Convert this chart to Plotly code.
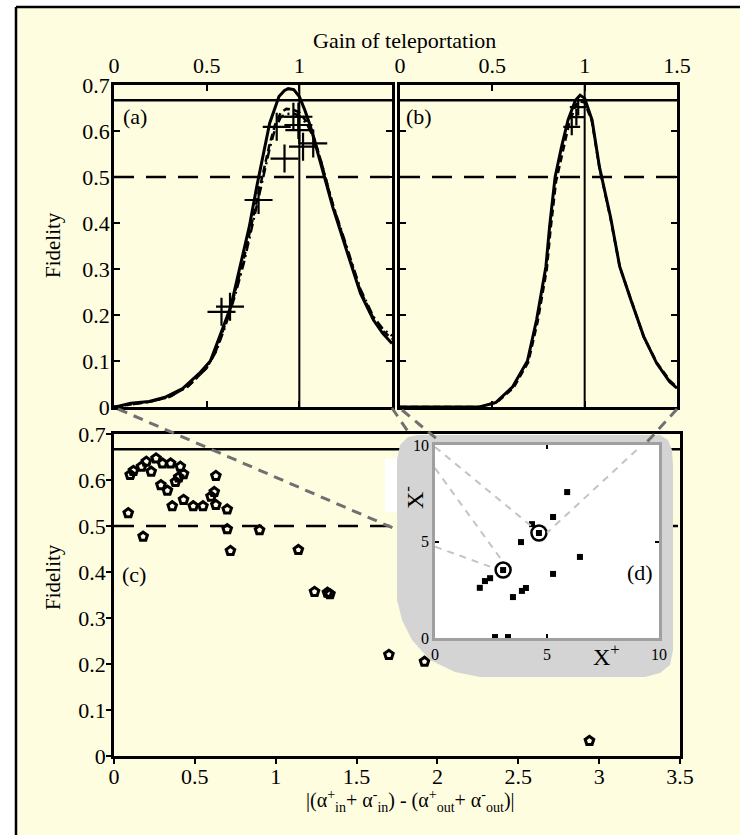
import plotly.graph_objects as go

W, H = 740, 835
CREAM = "#fffde0"
FONT = "Liberation Serif"

# --- panel (a): fidelity vs gain of teleportation ---
a_gain_solid = [0, 0.03, 0.09, 0.19, 0.28, 0.37, 0.46, 0.52, 0.57, 0.63, 0.68, 0.73, 0.77, 0.81,
                0.84, 0.89, 0.92, 0.94, 0.97, 1.0, 1.03, 1.06, 1.11, 1.18, 1.26, 1.33, 1.40, 1.45, 1.5]
a_fid_solid = [0.0, 0.002, 0.008, 0.012, 0.022, 0.04, 0.073, 0.10, 0.153, 0.218, 0.305, 0.392, 0.479,
               0.559, 0.617, 0.675, 0.688, 0.692, 0.69, 0.675, 0.645, 0.61, 0.537, 0.435, 0.334,
               0.247, 0.189, 0.16, 0.138]
a_gain_dash = [0, 0.1, 0.2, 0.3, 0.4, 0.5, 0.55, 0.6, 0.65, 0.7, 0.75, 0.8, 0.84, 0.87, 0.9, 0.93,
               0.97, 1.0, 1.04, 1.08, 1.12, 1.18, 1.26, 1.33, 1.4, 1.45, 1.5]
a_fid_dash = [0, 0.006, 0.012, 0.022, 0.045, 0.085, 0.122, 0.18, 0.245, 0.322, 0.41, 0.5, 0.572,
              0.615, 0.64, 0.648, 0.646, 0.64, 0.62, 0.585, 0.53, 0.44, 0.34, 0.252, 0.193, 0.166, 0.148]
a_gain_dashdot = [0, 0.1, 0.2, 0.3, 0.4, 0.5, 0.55, 0.6, 0.65, 0.7, 0.75, 0.8, 0.84, 0.87, 0.9, 0.93,
                  0.97, 1.0, 1.04, 1.08, 1.12, 1.18, 1.26, 1.33, 1.4, 1.45, 1.5]
a_fid_dashdot = [0, 0.006, 0.012, 0.022, 0.045, 0.085, 0.12, 0.175, 0.238, 0.312, 0.4, 0.49, 0.562,
                 0.606, 0.63, 0.637, 0.638, 0.633, 0.616, 0.583, 0.53, 0.442, 0.342, 0.256, 0.196,
                 0.17, 0.155]
a_gain_pts = [0.58, 0.626, 0.78, 0.878, 0.92, 0.968, 0.995, 1.0, 1.02, 1.075, 0.995]
a_fid_pts = [0.207, 0.218, 0.45, 0.609, 0.54, 0.631, 0.613, 0.602, 0.566, 0.573, 0.631]

# --- panel (b) ---
b_gain_solid = [0, 0.43, 0.52, 0.61, 0.69, 0.74, 0.79, 0.81, 0.84, 0.875, 0.91, 0.95, 0.975, 1.0,
                1.04, 1.08, 1.14, 1.19, 1.25, 1.32, 1.39, 1.46, 1.5]
b_fid_solid = [0, 0.0, 0.01, 0.044, 0.10, 0.19, 0.305, 0.392, 0.5, 0.566, 0.624, 0.667, 0.678, 0.671,
               0.624, 0.522, 0.413, 0.305, 0.233, 0.153, 0.095, 0.055, 0.041]
b_gain_dash = [0, 0.43, 0.525, 0.615, 0.695, 0.745, 0.795, 0.815, 0.845, 0.88, 0.915, 0.95, 0.97, 1.0,
               1.04, 1.08, 1.14, 1.19, 1.25, 1.32, 1.39, 1.46, 1.5]
b_fid_dash = [0, 0.0, 0.01, 0.042, 0.098, 0.185, 0.3, 0.385, 0.49, 0.556, 0.615, 0.655, 0.665, 0.662,
              0.62, 0.52, 0.41, 0.305, 0.232, 0.152, 0.097, 0.058, 0.043]
b_gain_pts = [0.93, 0.955, 0.965]
b_fid_pts = [0.609, 0.63, 0.652]

# --- panel (c): fidelity vs offset |(a_in) - (a_out)| ---
c_offset = [0.088, 0.1, 0.12, 0.18, 0.17, 0.2, 0.23, 0.26, 0.30, 0.35, 0.29, 0.33, 0.36, 0.38, 0.41,
            0.40, 0.43, 0.43, 0.49, 0.55, 0.60, 0.62, 0.63, 0.63, 0.70, 0.70, 0.72, 0.90, 1.14,
            1.24, 1.32, 1.335, 1.70, 1.92, 2.94]
c_fid = [0.528, 0.611, 0.62, 0.477, 0.629, 0.64, 0.618, 0.647, 0.636, 0.636, 0.589, 0.577, 0.543,
         0.596, 0.629, 0.606, 0.613, 0.557, 0.543, 0.543, 0.564, 0.574, 0.609, 0.546, 0.536, 0.493,
         0.446, 0.491, 0.448, 0.357, 0.355, 0.352, 0.22, 0.205, 0.033]

# --- inset (d): X+ / X- ---
d_xplus = [5.9, 5.27, 4.33, 3.84, 6.47, 2.46, 2.23, 2.0, 5.27, 4.06, 3.88, 3.48, 2.68, 3.26, 4.64, 3.04]
d_xminus = [7.56, 6.27, 5.9, 4.97, 4.2, 3.1, 2.95, 2.6, 3.32, 2.59, 2.44, 2.12, 0.05, 0.05, 5.44, 3.52]
d_circ_xplus = [4.64, 3.04]
d_circ_xminus = [5.44, 3.52]

NO_CLONING = 0.667
CLASSICAL = 0.5

# pixel boxes of the plot areas
A_BOX = (114, 392, 85, 407)
B_BOX = (400, 677, 85, 407)
C_BOX = (114, 680, 434, 756)
D_BOX = (435, 659, 445, 638)


def xdom(b):
    return [b[0] / W, b[1] / W]


def ydom(b):
    return [1 - b[3] / H, 1 - b[2] / H]


def to_c(pts):
    # pixel outline -> panel (c) data units (decoration behind the inset)
    xs = [(p[0] - C_BOX[0]) / (C_BOX[1] - C_BOX[0]) * 3.5 for p in pts]
    ys = [(C_BOX[3] - p[1]) / (C_BOX[3] - C_BOX[2]) * 0.7 for p in pts]
    return xs, ys


fig = go.Figure()

#* ---- curves of (a) and (b) ----
for xa, ya, gs, fs, gd, fd, gp, fp in [
        ("x", "y", a_gain_solid, a_fid_solid, a_gain_dash, a_fid_dash, a_gain_pts, a_fid_pts),
        ("x2", "y2", b_gain_solid, b_fid_solid, b_gain_dash, b_fid_dash, b_gain_pts, b_fid_pts)]:
    fig.add_trace(go.Scatter(x=gd, y=fd, xaxis=xa, yaxis=ya, mode="lines",
                             line=dict(color="black", width=2.5, dash="7px,4px")))
    fig.add_trace(go.Scatter(x=gs, y=fs, xaxis=xa, yaxis=ya, mode="lines",
                             line=dict(color="black", width=3)))
    fig.add_trace(go.Scatter(x=gp, y=fp, xaxis=xa, yaxis=ya, mode="markers",
                             marker=dict(symbol="cross-thin-open", size=20 if xa == "x" else 12,
                                         color="black", line=dict(color="black", width=2.2))))
fig.add_trace(go.Scatter(x=a_gain_dashdot, y=a_fid_dashdot, xaxis="x", yaxis="y", mode="lines",
                         line=dict(color="black", width=2.5, dash="9px,4px,2px,4px")))

#* ---- panel (c) ----
fig.add_trace(go.Scatter(x=[0, 3.5], y=[NO_CLONING] * 2, xaxis="x3", yaxis="y3", mode="lines",
                         line=dict(color="black", width=2.5)))
fig.add_trace(go.Scatter(x=[0, 3.5], y=[CLASSICAL] * 2, xaxis="x3", yaxis="y3", mode="lines",
                         line=dict(color="black", width=2.5, dash="20px,12px")))
fig.add_trace(go.Scatter(x=c_offset, y=c_fid, xaxis="x3", yaxis="y3", mode="markers",
                         marker=dict(symbol="pentagon-open", size=9, color="black",
                                     line=dict(color="black", width=3))))

# gray rounded patch behind the inset, plus white strip and inset background
patch_px = [(397, 460), (400, 445), (408, 437), (418, 435), (660, 435), (668, 440), (672, 450),
            (673, 465), (673, 650), (670, 665), (660, 673), (645, 677), (480, 677), (455, 672),
            (430, 660), (412, 640), (402, 620), (397, 600), (397, 460)]
strip_px = [(385, 459), (397, 459), (397, 512), (385, 512), (385, 459)]
white_px = [(D_BOX[0], D_BOX[2]), (D_BOX[1], D_BOX[2]), (D_BOX[1], D_BOX[3]),
            (D_BOX[0], D_BOX[3]), (D_BOX[0], D_BOX[2])]
for pts, col in [(patch_px, "#d4d4d4"), (strip_px, "white"), (white_px, "white")]:
    xs, ys = to_c(pts)
    fig.add_trace(go.Scatter(x=xs, y=ys, xaxis="x3", yaxis="y3", mode="lines", fill="toself",
                             fillcolor=col, line=dict(width=0), hoverinfo="skip"))

#* ---- inset (d) ----
fig.add_trace(go.Scatter(x=d_xplus, y=d_xminus, xaxis="x4", yaxis="y4", mode="markers",
                         marker=dict(symbol="square", size=6, color="black")))
fig.add_trace(go.Scatter(x=d_circ_xplus, y=d_circ_xminus, xaxis="x4", yaxis="y4", mode="markers",
                         marker=dict(symbol="circle-open", size=15, color="black",
                                     line=dict(color="black", width=2.5))))

tickfont = dict(family=FONT, size=22, color="black")
frame = dict(showline=True, linecolor="black", linewidth=2.5, mirror="ticks", ticks="inside",
             ticklen=6, tickwidth=2, tickcolor="black", showgrid=False, zeroline=False,
             tickfont=tickfont, fixedrange=True, automargin=False)
yt = [0, 0.1, 0.2, 0.3, 0.4, 0.5, 0.6, 0.7]
ytl = ["0", "0.1", "0.2", "0.3", "0.4", "0.5", "0.6", "0.7"]

fig.update_layout(
    template="none",
    width=W, height=H, margin=dict(l=0, r=0, t=0, b=0, autoexpand=False), showlegend=False,
    paper_bgcolor="white", plot_bgcolor="rgba(0,0,0,0)",
    font=dict(family=FONT, color="black"),
    xaxis=dict(frame, domain=xdom(A_BOX), range=[0, 1.5], anchor="y", side="top",
               tickvals=[0, 0.5, 1, 1.5], ticktext=["0", "0.5", "1", ""]),
    yaxis=dict(frame, domain=ydom(A_BOX), range=[0, 0.7], anchor="x", tickvals=yt, ticktext=ytl,
               ticklabelstandoff=-3),
    xaxis2=dict(frame, domain=xdom(B_BOX), range=[0, 1.5], anchor="y2", side="top",
                tickvals=[0, 0.5, 1, 1.5], ticktext=["0", "0.5", "1", "1.5"]),
    yaxis2=dict(frame, domain=ydom(B_BOX), range=[0, 0.7], anchor="x2", tickvals=yt,
                showticklabels=False),
    xaxis3=dict(frame, domain=xdom(C_BOX), range=[0, 3.5], anchor="y3", mirror=True,
                ticks="outside", ticklen=5, ticklabelstandoff=-6,
                tickvals=[0, 0.5, 1, 1.5, 2, 2.5, 3, 3.5],
                ticktext=["0", "0.5", "1", "1.5", "2", "2.5", "3", "3.5"]),
    yaxis3=dict(frame, domain=ydom(C_BOX), range=[0, 0.7], anchor="x3", mirror=True,
                ticks="outside", ticklen=5, ticklabelstandoff=-4, tickvals=yt, ticktext=ytl),
    xaxis4=dict(frame, domain=xdom(D_BOX), range=[0, 10], anchor="y4", linecolor="#a0a0a0",
                mirror="ticks", ticklen=4, tickvals=[0, 5, 10], ticktext=["0", "5", "10"],
                tickfont=dict(family=FONT, size=16, color="black")),
    yaxis4=dict(frame, domain=ydom(D_BOX), range=[0, 10], anchor="x4", linecolor="#a0a0a0",
                mirror="ticks", ticklen=4, tickvals=[0, 5, 10], ticktext=["0", "5", "10"],
                tickfont=dict(family=FONT, size=16, color="black")),
)

shapes = [
    # cream page with the frame on top and left
    dict(type="rect", xref="paper", yref="paper", x0=16 / W, x1=1, y0=0, y1=1 - 7 / H,
         fillcolor=CREAM, line=dict(width=0), layer="below"),
    dict(type="line", xref="paper", yref="paper", x0=16 / W, x1=1, y0=1 - 7 / H, y1=1 - 7 / H,
         line=dict(color="black", width=2.5)),
    dict(type="line", xref="paper", yref="paper", x0=16 / W, x1=16 / W, y0=0, y1=1 - 7 / H,
         line=dict(color="black", width=2.5)),
]
for xr, yr in [("x", "y"), ("x2", "y2")]:
    shapes += [
        dict(type="line", xref=xr + " domain", yref=yr, x0=0, x1=1, y0=NO_CLONING, y1=NO_CLONING,
             line=dict(color="black", width=2.5)),
        dict(type="line", xref=xr + " domain", yref=yr, x0=0, x1=1, y0=CLASSICAL, y1=CLASSICAL,
             line=dict(color="black", width=2.5, dash="20px,12px")),
        dict(type="line", xref=xr, yref=yr + " domain", x0=1, x1=1, y0=0, y1=1,
             line=dict(color="black", width=2)),
    ]
# zoom connectors
for (x0, y0, x1, y1) in [(118, 409, 393, 528), (392, 408, 409, 433), (402, 410, 437, 439),
                         (677, 409, 647, 442)]:
    shapes.append(dict(type="line", xref="paper", yref="paper", x0=x0 / W, y0=1 - y0 / H,
                       x1=x1 / W, y1=1 - y1 / H,
                       line=dict(color="#707070", width=3, dash="10px,7px")))
for (x0, y0, x1, y1) in [(0, 9.9, 4.3, 5.8), (0, 8.8, 3.0, 4.0), (0, 4.73, 2.46, 3.7),
                         (9.0, 9.74, 5.0, 5.45)]:
    shapes.append(dict(type="line", xref="x4", yref="y4", x0=x0, y0=y0, x1=x1, y1=y1,
                       line=dict(color="#c4c4c4", width=2, dash="7px,6px")))
fig.update_layout(shapes=shapes)


def note(text, x, y, size=22, angle=0):
    fig.add_annotation(text=text, x=x / W, y=1 - y / H, xref="paper", yref="paper",
                       showarrow=False, textangle=angle, xanchor="center", yanchor="middle",
                       font=dict(family=FONT, size=size, color="black"))


note("Gain of teleportation", 405, 40, size=22)
note("Fidelity", 53, 245, size=21, angle=-90)
note("Fidelity", 53, 577, size=21, angle=-90)
note("(a)", 135, 116)
note("(b)", 419, 116)
note("(c)", 134, 574)
note("(d)", 640, 572)
note("X<sup>+</sup>", 606, 655, size=24)
note("X<sup>-</sup>", 413, 498, size=24, angle=-90)
note("|(α<sup>+</sup><sub>in</sub>+ α<sup>-</sup><sub>in</sub>) - "
     "(α<sup>+</sup><sub>out</sub>+ α<sup>-</sup><sub>out</sub>)|", 410, 801, size=20)

# page without the default body margin so the figure sits at the window's corner
fig.write_html("out.html", config={"displayModeBar": False},
               post_script="document.body.style.margin='0';")
